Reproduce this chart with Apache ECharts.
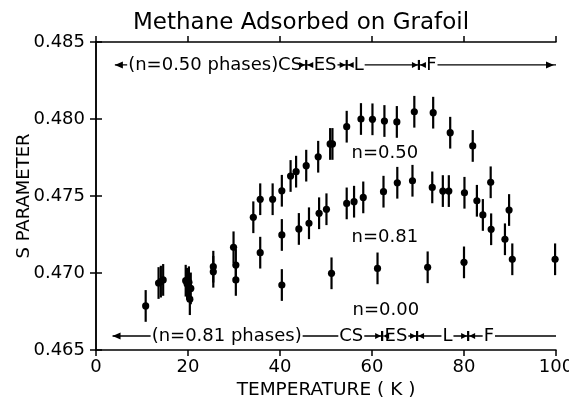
<!DOCTYPE html>
<html>
<head>
<meta charset="utf-8">
<script src="https://cdn.jsdelivr.net/npm/echarts@6/dist/echarts.min.js"></script>
<style>
  html, body { margin: 0; padding: 0; background: #fff; }
  #chart { width: 569px; height: 402px; }
</style>
</head>
<body>
<div id="chart"></div>
<script>
'use strict'
// [temperature K, S parameter]
var n050 = [
  [13.6, 0.46935], [19.5, 0.46950], [20.2, 0.46940], [25.5, 0.47041], [29.9, 0.47167],
  [34.2, 0.47362], [35.7, 0.47479], [38.4, 0.47479], [40.4, 0.47534], [42.3, 0.47630],
  [43.5, 0.47658], [45.7, 0.47697], [48.3, 0.47755], [50.9, 0.47838], [51.4, 0.47838],
  [54.5, 0.47950], [57.6, 0.48000], [60.1, 0.47998], [62.7, 0.47987], [65.4, 0.47981],
  [69.2, 0.48047], [73.3, 0.48041], [77.0, 0.47911], [81.9, 0.47825], [85.8, 0.47589],
  [89.8, 0.47409]
];
var n081 = [
  [10.8, 0.46786], [14.1, 0.46944], [14.6, 0.46955], [19.8, 0.46930], [20.6, 0.46900],
  [25.5, 0.47008], [30.4, 0.47052], [35.7, 0.47132], [40.4, 0.47247], [44.1, 0.47286],
  [46.3, 0.47323], [48.5, 0.47388], [50.1, 0.47414], [54.5, 0.47452], [56.1, 0.47463],
  [58.1, 0.47491], [62.5, 0.47528], [65.5, 0.47586], [68.8, 0.47599], [73.1, 0.47556],
  [75.4, 0.47532], [76.7, 0.47532], [80.1, 0.47521], [82.8, 0.47469], [84.1, 0.47377],
  [85.9, 0.47284], [88.9, 0.47219], [90.5, 0.47089]
];
var n000 = [
  [20.4, 0.46830], [30.4, 0.46955], [40.4, 0.46922], [51.2, 0.46998], [61.2, 0.47030],
  [72.1, 0.47037], [80.0, 0.47069], [99.8, 0.47089]
];
var ERR = 0.00103;

var xTicks = [0, 20, 40, 60, 80, 100];
var yTicks = ['0.465', '0.470', '0.475', '0.480', '0.485'];

// phase rows: temperatures of the phase boundaries
var topRowS = 0.48351, botRowS = 0.46591;
var topBounds = [45.7, 54.5, 70.2];
var botBounds = [62.2, 69.8, 80.9];
var topNames = ['(n=0.50 phases)', 'CS', 'ES', 'L', 'F'];
var botNames = ['(n=0.81 phases)', 'CS', 'ES', 'L', 'F'];
var seriesNames = ['n=0.50', 'n=0.81', 'n=0.00'];

var FONT = '"DejaVu Sans", sans-serif';

var chart = echarts.init(document.getElementById('chart'));

function renderErr(params, api) {
  var x = api.value(0), y = api.value(1);
  var c = api.coord([x, y]);
  var t = api.coord([x, y + ERR]);
  var b = api.coord([x, y - ERR]);
  return {
    type: 'group',
    children: [
      { type: 'line', shape: { x1: c[0], y1: t[1], x2: c[0], y2: b[1] }, style: { stroke: '#000', lineWidth: 2.2 } },
      { type: 'circle', shape: { cx: c[0], cy: c[1], r: 3.6 }, style: { fill: '#000' } }
    ]
  };
}

function renderRow(params, api) {
  var a = api.coord([api.value(0), api.value(2)]);
  var b = api.coord([api.value(1), api.value(2)]);
  var kids = [
    { type: 'line', shape: { x1: a[0], y1: a[1], x2: b[0], y2: b[1] }, style: { stroke: '#000', lineWidth: 1.3 } },
    { type: 'polygon', shape: { points: [[a[0], a[1]], [a[0] + 8, a[1] - 3.5], [a[0] + 8, a[1] + 3.5]] }, style: { fill: '#000' } }
  ];
  if (api.value(3)) {
    kids.push({ type: 'polygon', shape: { points: [[b[0] - 2, b[1]], [b[0] - 10, b[1] - 3.5], [b[0] - 10, b[1] + 3.5]] }, style: { fill: '#000' } });
  }
  return { type: 'group', children: kids };
}

function renderBound(params, api) {
  var c = api.coord([api.value(0), api.value(1)]);
  return {
    type: 'group',
    children: [
      { type: 'line', shape: { x1: c[0], y1: c[1] - 5, x2: c[0], y2: c[1] + 5 }, style: { stroke: '#000', lineWidth: 2.2 } },
      { type: 'polygon', shape: { points: [[c[0] - 1, c[1]], [c[0] - 7, c[1] - 3], [c[0] - 7, c[1] + 3]] }, style: { fill: '#000' } },
      { type: 'polygon', shape: { points: [[c[0] + 1, c[1]], [c[0] + 7, c[1] - 3], [c[0] + 7, c[1] + 3]] }, style: { fill: '#000' } }
    ]
  };
}

function renderText(params, api) {
  var c = api.coord([api.value(0), api.value(1)]);
  var item = textItems[params.dataIndex];
  return {
    type: 'text',
    x: c[0], y: c[1],
    style: {
      text: item.name, fill: '#000', font: item.size + 'px ' + FONT,
      align: 'center', verticalAlign: 'middle',
      backgroundColor: item.bg ? '#fff' : null, padding: [0, 1]
    }
  };
}

// label anchors in data units
var textItems = [
  { name: topNames[0], value: [23.3, topRowS], size: 18, bg: true },
  { name: topNames[1], value: [42.2, topRowS], size: 18, bg: true },
  { name: topNames[2], value: [49.8, topRowS], size: 18, bg: true },
  { name: topNames[3], value: [57.1, topRowS], size: 18, bg: true },
  { name: topNames[4], value: [72.9, topRowS], size: 18, bg: true },
  { name: botNames[0], value: [28.4, botRowS], size: 18, bg: true },
  { name: botNames[1], value: [55.5, botRowS], size: 18, bg: true },
  { name: botNames[2], value: [65.2, botRowS], size: 18, bg: true },
  { name: botNames[3], value: [76.4, botRowS], size: 18, bg: true },
  { name: botNames[4], value: [85.4, botRowS], size: 18, bg: true },
  { name: seriesNames[0], value: [62.8, 0.47779], size: 18, bg: false },
  { name: seriesNames[1], value: [62.8, 0.47234], size: 18, bg: false },
  { name: seriesNames[2], value: [63.0, 0.46760], size: 18, bg: false }
];

var boundData = topBounds.map(function (t) { return [t, topRowS]; })
  .concat(botBounds.map(function (t) { return [t, botRowS]; }));

var axisLine = { show: true, lineStyle: { color: '#000', width: 1.5 } };
var axisTick = { show: true, inside: false, length: 6, lineStyle: { color: '#000', width: 1.5 } };

var option = {
  animation: false,
  backgroundColor: '#fff',
  title: {
    text: 'Methane Adsorbed on Grafoil',
    left: 296, top: 7, textAlign: 'center',
    textStyle: { fontFamily: FONT, fontSize: 23, fontWeight: 'normal', color: '#000' }
  },
  grid: { left: 96, right: 13, top: 42, bottom: 52, outerBoundsMode: 'none', containLabel: false },
  xAxis: [{
    type: 'value', min: 0, max: 100, interval: 20, position: 'bottom',
    name: 'TEMPERATURE ( K )', nameLocation: 'middle', nameGap: 31, nameMoveOverlap: false,
    nameTextStyle: { fontFamily: FONT, fontSize: 18.5, color: '#000' },
    axisLine: axisLine, axisTick: axisTick, splitLine: { show: false },
    axisLabel: {
      fontFamily: FONT, fontSize: 18, color: '#000', margin: 8,
      formatter: function (v) { return xTicks.indexOf(v) >= 0 ? String(v) : ''; }
    }
  }, {
    type: 'value', min: 0, max: 100, interval: 20, position: 'top',
    axisLine: axisLine, axisTick: axisTick, splitLine: { show: false },
    axisLabel: { show: false }
  }],
  yAxis: [{
    type: 'value', min: 0.465, max: 0.485, interval: 0.005, position: 'left',
    name: 'S PARAMETER', nameLocation: 'middle', nameGap: 63, nameMoveOverlap: false,
    nameTextStyle: { fontFamily: FONT, fontSize: 18, color: '#000' },
    axisLine: axisLine, axisTick: axisTick, splitLine: { show: false },
    axisLabel: {
      fontFamily: FONT, fontSize: 18, color: '#000', margin: 11,
      formatter: function (v) { return yTicks[Math.round((v - 0.465) / 0.005)]; }
    }
  }, {
    type: 'value', min: 0.465, max: 0.485, interval: 0.005, position: 'right',
    axisLine: axisLine, axisTick: axisTick, splitLine: { show: false },
    axisLabel: { show: false }
  }],
  series: [
    { name: seriesNames[0], type: 'custom', renderItem: renderErr, data: n050, clip: false, z: 3 },
    { name: seriesNames[1], type: 'custom', renderItem: renderErr, data: n081, clip: false, z: 3 },
    { name: seriesNames[2], type: 'custom', renderItem: renderErr, data: n000, clip: false, z: 3 },
    { type: 'custom', renderItem: renderRow, z: 4, clip: false,
      data: [[4.1, 100, topRowS, 1], [3.6, 100, botRowS, 0]] },
    { type: 'custom', renderItem: renderText, z: 5, clip: false, data: textItems },
    { type: 'custom', renderItem: renderBound, z: 6, clip: false, data: boundData }
  ]
};

chart.setOption(option);
</script>
</body>
</html>
